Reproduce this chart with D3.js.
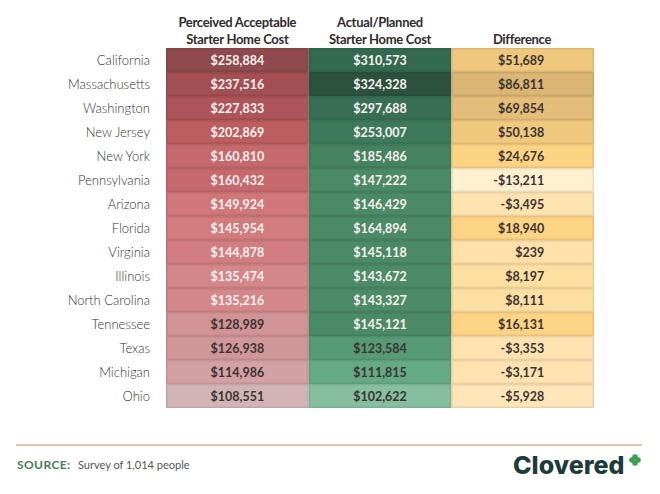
<!DOCTYPE html>
<html>
<head>
<meta charset="utf-8">
<script src="https://cdn.jsdelivr.net/npm/d3@7"></script>
<style>
  body { margin: 0; background: #fff; }
  svg { display: block; font-family: "Lato", sans-serif; }
</style>
</head>
<body>
<svg class="table" width="660" height="494"></svg>
<script>
// data
var states = ["California", "Massachusetts", "Washington", "New Jersey", "New York",
  "Pennsylvania", "Arizona", "Florida", "Virginia", "Illinois", "North Carolina",
  "Tennessee", "Texas", "Michigan", "Ohio"];
var perceived = [258884, 237516, 227833, 202869, 160810, 160432, 149924, 145954,
  144878, 135474, 135216, 128989, 126938, 114986, 108551];
var actual = [310573, 324328, 297688, 253007, 185486, 147222, 146429, 164894,
  145118, 143672, 143327, 145121, 123584, 111815, 102622];
var difference = [51689, 86811, 69854, 50138, 24676, -13211, -3495, 18940,
  239, 8197, 8111, 16131, -3353, -3171, -5928];
var headers = [["Perceived Acceptable", "Starter Home Cost"],
  ["Actual/Planned", "Starter Home Cost"],
  ["", "Difference"]];

var svg = d3.select(".table");

// rows and columns of the table
var y = d3.scaleBand()
  .domain(states)
  .range([48, 408]);

var x = d3.scaleBand()
  .domain([0, 1, 2])
  .range([166, 594]);

// colour scales for each column
var redColor = d3.scaleLinear()
  .domain([108551, 114986, 128000, 136000, 148000, 160000, 203000, 228000, 238000, 259000])
  .range(["#d2b4b6", "#d3a1a3", "#d19597", "#d38688", "#d27a7c", "#c5696d", "#bc5d60", "#ad5558", "#a24f53", "#8e4a4c"])
  .clamp(true);

var greenColor = d3.scaleLinear()
  .domain([102622, 111815, 123584, 145000, 165000, 185000, 253000, 298000, 311000, 324328])
  .range(["#86bea0", "#66aa85", "#569b76", "#4b8a67", "#4a8a66", "#45825f", "#3d7a5b", "#386f54", "#336a4f", "#2c523f"])
  .clamp(true);

var yellowColor = d3.scaleLinear()
  .domain([-13211, -3500, 239, 8000, 16000, 25000, 50000, 70000, 86811])
  .range(["#fff0d0", "#fee3b1", "#fee0a8", "#fedfa3", "#fdd385", "#fcd283", "#f1c97e", "#e4be78", "#dab574"])
  .clamp(true);

var columns = [
  { values: perceived, color: redColor, align: "middle" },
  { values: actual, color: greenColor, align: "middle" },
  { values: difference, color: yellowColor, align: "end" }
];

var fmt = d3.format(",");
function money(v) { return (v < 0 ? "-$" : "$") + fmt(Math.abs(v)); }

// column headers
headers.forEach(function(h, i) {
  var cx = i === 2 ? 522 : x(i) + x.bandwidth() / 2;
  h.forEach(function(line, j) {
    svg.append("text")
      .attr("x", cx)
      .attr("y", 27 + j * 17)
      .attr("text-anchor", "middle")
      .style("font-size", "13px")
      .style("font-weight", 700)
      .style("letter-spacing", "-0.3px")
      .style("fill", "#2f2b2b")
      .text(line);
  });
});

// state labels
svg.selectAll(".state")
  .data(states)
  .enter().append("text")
    .attr("class", "state")
    .attr("x", 150)
    .attr("y", function(d) { return y(d) + y.bandwidth() / 2; })
    .attr("dy", "0.36em")
    .attr("text-anchor", "end")
    .style("font-size", "13px")
    .style("font-weight", 300)
    .style("fill", "#333")
    .text(function(d) { return d; });

// cells
columns.forEach(function(col, ci) {
  var g = svg.append("g").attr("class", "col" + ci);

  g.selectAll("rect")
    .data(col.values)
    .enter().append("rect")
      .attr("x", x(ci) + 0.75)
      .attr("y", function(d, i) { return y(states[i]) + 0.75; })
      .attr("width", x.bandwidth() - 1.5)
      .attr("height", y.bandwidth() - 1.5)
      .style("fill", function(d) { return col.color(d); })
      .style("stroke", function(d) { return d3.color(col.color(d)).darker(0.25); })
      .style("stroke-width", 1.5);

  g.selectAll("text")
    .data(col.values)
    .enter().append("text")
      .attr("x", col.align === "end" ? x(ci) + 93 : x(ci) + x.bandwidth() / 2)
      .attr("y", function(d, i) { return y(states[i]) + y.bandwidth() / 2; })
      .attr("dy", "0.36em")
      .attr("text-anchor", col.align)
      .style("font-size", "12.5px")
      .style("font-weight", 700)
      .style("fill", function(d) {
        return (ci < 2 && d >= 130000) ? "#f8f2f0" : "#3b3434";
      })
      .text(function(d) { return money(d); });
});

// footer
svg.append("line")
  .attr("x1", 16).attr("x2", 642)
  .attr("y1", 445).attr("y2", 445)
  .style("stroke", "#e4c3ad")
  .style("stroke-width", 2);

svg.append("text")
  .attr("x", 17).attr("y", 469)
  .style("font-size", "12px")
  .style("font-weight", 700)
  .style("letter-spacing", "0.4px")
  .style("fill", "#4a7a58")
  .text("SOURCE:");

svg.append("text")
  .attr("x", 78).attr("y", 469)
  .style("font-size", "11px")
  .style("fill", "#555")
  .text("Survey of 1,014 people");

// logo
svg.append("text")
  .attr("x", 513).attr("y", 474)
  .style("font-family", "Inter, sans-serif")
  .style("font-size", "25px")
  .style("font-weight", 800)
  .style("fill", "#1e3b3b")
  .text("Clovered");

var clover = svg.append("g").attr("transform", "translate(635,460)");
[[0, -3], [3, 0], [0, 3], [-3, 0]].forEach(function(p) {
  clover.append("circle")
    .attr("cx", p[0]).attr("cy", p[1])
    .attr("r", 2.8)
    .style("fill", "#3a9e4b");
});
</script>
</body>
</html>
